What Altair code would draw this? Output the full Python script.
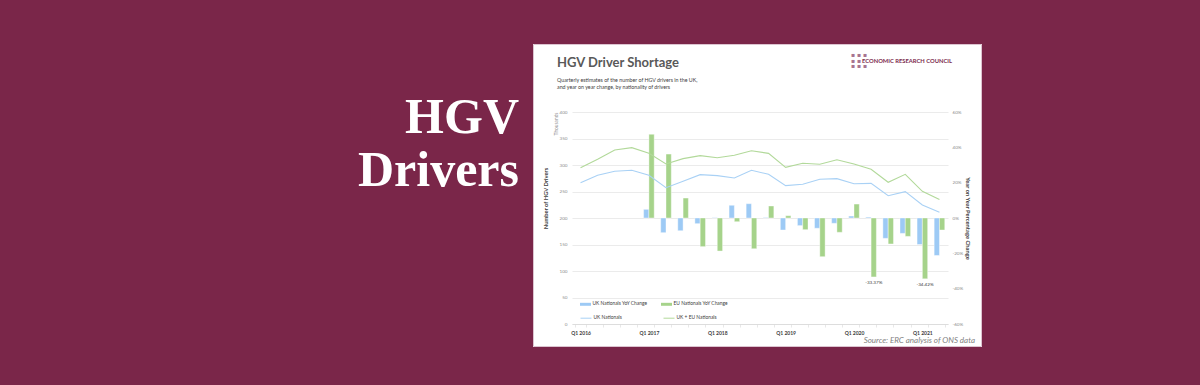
import altair as alt
import pandas as pd

# ---------------- data ----------------
quarters = [
    "Q1 2016", "Q2 2016", "Q3 2016", "Q4 2016",
    "Q1 2017", "Q2 2017", "Q3 2017", "Q4 2017",
    "Q1 2018", "Q2 2018", "Q3 2018", "Q4 2018",
    "Q1 2019", "Q2 2019", "Q3 2019", "Q4 2019",
    "Q1 2020", "Q2 2020", "Q3 2020", "Q4 2020",
    "Q1 2021", "Q2 2021",
]
# thousands of drivers
uk_nationals = [266.6, 280.5, 288.1, 290.0, 280.5, 257.2, 269.2, 281.8, 279.9, 275.5, 290.0,
                282.4, 261.0, 263.6, 273.0, 274.2, 264.7, 265.4, 242.1, 249.7, 224.5, 210.7]
uk_eu_nationals = [295.0, 310.7, 328.3, 332.7, 322.0, 301.9, 312.0, 317.6, 313.8, 318.3, 327.0,
                   322.0, 295.6, 303.2, 301.3, 310.0, 301.9, 291.9, 267.4, 282.4, 250.4, 235.0]
# year-on-year % change (from Q1 2017)
yoy_quarters = quarters[4:]
uk_yoy = [4.9, -8.3, -7.2, -3.2, 0.2, 7.2, 8.1, 0.3, -6.8, -4.3, -5.8, -3.0, 1.1, 0.5,
          -11.5, -8.7, -15.0, -21.2]
eu_yoy = [47.4, 36.2, 11.3, -16.2, -18.7, -2.1, -17.4, 6.8, 1.3, -6.6, -21.9, -8.1, 7.9,
          -33.37, -14.7, -10.4, -34.42, -6.8]
eu_labels = {"Q2 2020": "-33.37%", "Q1 2021": "-34.42%"}

bar_series = ["UK Nationals YoY Change", "EU Nationals YoY Change"]
line_series = ["UK Nationals", "UK + EU Nationals"]

bars_rows = []
for q, u, e in zip(yoy_quarters, uk_yoy, eu_yoy):
    bars_rows.append({"quarter": q, "series": bar_series[0], "value": u, "label": ""})
    bars_rows.append({"quarter": q, "series": bar_series[1], "value": e, "label": eu_labels.get(q, "")})
bars_df = pd.DataFrame(bars_rows)

line_rows = []
for q, u, t in zip(quarters, uk_nationals, uk_eu_nationals):
    line_rows.append({"quarter": q, "series": line_series[0], "value": u})
    line_rows.append({"quarter": q, "series": line_series[1], "value": t})
lines_df = pd.DataFrame(line_rows)

one = pd.DataFrame({"k": [0]})

# ---------------- style ----------------
MAROON = "#7a2649"
BAR_BLUE = "#9dcaf5"
BAR_GREEN = "#a6d38b"
LINE_BLUE = "#a9d1f5"
LINE_GREEN = "#b2d99a"
FONT = "Lato"

W, H = 376, 212          # plot area
PL, PT = 572, 112        # plot origin in page

x_scale = alt.Scale(type="band", domain=quarters, paddingInner=0.38, paddingOuter=0.19)
x_axis = alt.Axis(
    title=None, labelAngle=0, labelOverlap=False,
    labelExpr="indexof(datum.label, 'Q1') == 0 ? datum.label : ''",
    tickBand="extent", tickSize=3, tickColor="#d9d9d9", tickWidth=0.6,
    domainColor="#d9d9d9", domainWidth=0.8,
    labelFont=FONT, labelFontSize=5, labelFontWeight="bold", labelColor="#404040", labelPadding=3,
)
pct_scale = alt.Scale(domain=[-60, 60], nice=False)
right_axis = alt.Axis(
    orient="right", title="Year on Year Percentage Change",
    values=[-60, -40, -20, 0, 20, 40, 60], labelExpr="datum.value + '%'",
    grid=False, ticks=False, domain=False,
    labelFont=FONT, labelFontSize=4.6, labelColor="#8c8c8c", labelPadding=4,
    titleFont=FONT, titleFontSize=5.8, titleFontWeight="bold", titleColor="#404040",
    titleAngle=90, titleX=16, titleY=106,
)
left_axis = alt.Axis(
    orient="left", title="Number of HGV Drivers",
    values=list(range(0, 401, 50)),
    grid=True, gridColor="#dedede", gridWidth=0.6, ticks=False, domain=False,
    labelFont=FONT, labelFontSize=4.6, labelColor="#8c8c8c", labelPadding=5,
    titleFont=FONT, titleFontSize=5.8, titleFontWeight="bold", titleColor="#404040",
    titleAngle=-90, titleX=-24, titleY=86,
)

bar_legend = alt.Legend(
    title=None, orient="none", legendX=8, legendY=186.5, direction="horizontal", columns=2,
    symbolType="M-1,-0.27H1V0.27H-1Z", symbolSize=121, symbolStrokeWidth=0,
    labelFont=FONT, labelFontSize=4.9, labelColor="#404040", labelOffset=1.5,
    columnPadding=13, padding=0,
)
line_legend = alt.Legend(
    title=None, orient="none", legendX=8, legendY=200.2, direction="horizontal", columns=2,
    symbolType="stroke", symbolSize=121, symbolStrokeWidth=1,
    labelFont=FONT, labelFontSize=4.9, labelColor="#404040", labelOffset=1.5,
    columnPadding=39, padding=0,
)

# ---------------- decoration (page frame) ----------------
def rect(x, x2, y, y2, color):
    return alt.Chart(one).mark_rect(color=color).encode(
        x=alt.value(x), x2=alt.value(x2), y=alt.value(y), y2=alt.value(y2))

def text(t, x, y, **kw):
    return alt.Chart(one).mark_text(**kw).encode(
        x=alt.value(x), y=alt.value(y), text=alt.value(t))

panel_l, panel_r, panel_t, panel_b = 533 - PL, 982 - PL, 44 - PT, 347 - PT
frame = [
    rect(-PL, panel_l, -PT, 385 - PT, MAROON),
    rect(panel_r, 1200 - PL, -PT, 385 - PT, MAROON),
    rect(panel_l, panel_r, -PT, panel_t, MAROON),
    rect(panel_l, panel_r, panel_b, 385 - PT, MAROON),
    alt.Chart(one).mark_rect(fillOpacity=0, stroke="#dcc4d0", strokeWidth=1).encode(
        x=alt.value(panel_l + 0.5), x2=alt.value(panel_r - 0.5),
        y=alt.value(panel_t + 0.5), y2=alt.value(panel_b - 0.5)),
]
decor = [
    text("HGV", 519 - PL, 133 - PT, font="Liberation Serif", fontSize=50, fontWeight="bold",
         color="white", align="right", baseline="alphabetic"),
    text("Drivers", 519 - PL, 186 - PT, font="Liberation Serif", fontSize=50, fontWeight="bold",
         color="white", align="right", baseline="alphabetic"),
    text("HGV Driver Shortage", 557 - PL, 67 - PT, font=FONT, fontSize=13, fontWeight="bold",
         color="#595959", align="left", baseline="alphabetic"),
    text("Quarterly estimates of the number  of HGV drivers in the UK,", 557 - PL, 82 - PT,
         font=FONT, fontSize=5.3, color="#404040", align="left", baseline="alphabetic"),
    text("and year on year change, by nationality of drivers", 557 - PL, 88.5 - PT,
         font=FONT, fontSize=5.3, color="#404040", align="left", baseline="alphabetic"),
    text(["\u25aa \u25aa \u25aa", "\u25aa \u25aa", "\u25aa \u25aa \u25aa"], 851 - PL, 55 - PT,
         font="DejaVu Sans", fontSize=6, lineHeight=5.5, color="#a8758f", align="left",
         baseline="middle"),
    text("ECONOMIC RESEARCH COUNCIL", 862 - PL, 61 - PT, font=FONT, fontSize=5.8,
         fontWeight="bold", color="#7b2a4d", align="left", baseline="middle"),
    text("Thousands", 557 - PL, 124 - PT, font=FONT, fontSize=4.8, color="#8c8c8c",
         angle=270, align="center", baseline="middle"),
    text("Source: ERC analysis of ONS data", 975 - PL, 343 - PT, font=FONT, fontSize=8,
         fontStyle="italic", color="#7f7f7f", align="right", baseline="alphabetic"),
]

# ---------------- chart ----------------
bars = alt.Chart(bars_df).mark_bar(stroke="white", strokeWidth=0.4).encode(
    x=alt.X("quarter:N", scale=x_scale, axis=x_axis, sort=quarters),
    xOffset=alt.XOffset("series:N", scale=alt.Scale(domain=bar_series, paddingInner=0, paddingOuter=0)),
    y=alt.Y("value:Q", scale=pct_scale, axis=right_axis),
    color=alt.Color("series:N", scale=alt.Scale(domain=bar_series, range=[BAR_BLUE, BAR_GREEN]),
                    legend=bar_legend),
)
bar_text = alt.Chart(bars_df).transform_filter("datum.label != ''").mark_text(
    font=FONT, fontSize=4.6, color="#404040", baseline="top", dy=3.5
).encode(
    x=alt.X("quarter:N", scale=x_scale, axis=x_axis, sort=quarters),
    xOffset=alt.XOffset("series:N", scale=alt.Scale(domain=bar_series, paddingInner=0, paddingOuter=0)),
    y=alt.Y("value:Q", scale=pct_scale, axis=right_axis),
    text="label:N",
)
lines = alt.Chart(lines_df).mark_line(strokeWidth=1.1).encode(
    x=alt.X("quarter:N", scale=x_scale, axis=x_axis, sort=quarters, bandPosition=0.5),
    y=alt.Y("value:Q", scale=alt.Scale(domain=[0, 400], nice=False), axis=left_axis),
    color=alt.Color("series:N", scale=alt.Scale(domain=line_series, range=[LINE_BLUE, LINE_GREEN]),
                    legend=line_legend),
)

data_layers = alt.layer(
    alt.layer(bars, bar_text),
    lines,
).resolve_scale(y="independent", color="independent")

chart = alt.layer(*frame, *decor, data_layers).resolve_scale(
    y="independent", color="independent"
).properties(
    width=W, height=H,
    padding={"left": PL, "top": PT, "right": 1200 - PL - W, "bottom": 385 - PT - H},
    autosize=alt.AutoSizeParams(type="none"),
    background="white",
).configure_view(stroke=None)

chart.save("out.html", embed_options={"renderer": "svg", "actions": False})
